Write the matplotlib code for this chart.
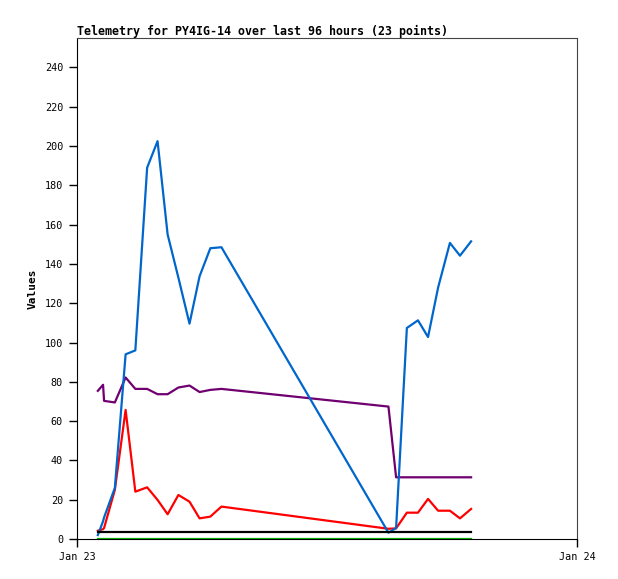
import numpy as np
import pandas as pd
import matplotlib as mpl
mpl.use('Agg')
import matplotlib.pyplot as plt
import matplotlib.dates as mdates

mpl.rcParams['font.family'] = 'DejaVu Sans Mono'

###############################################################################
# Data

times = ['01:00', '01:15', '01:18', '01:49', '02:20', '02:48', '03:22', '03:52',
         '04:21', '04:52', '05:24', '05:53', '06:24', '06:56', '14:57', '15:19',
         '15:50', '16:22', '16:51', '17:20', '17:54', '18:23', '18:55']

blue = [2, 9, 11, 26, 94, 96, 189, 202.5, 155, 133, 109.6, 133.7, 148, 148.5,
        3.2, 5.6, 107.4, 111.3, 102.8, 128, 150.7, 144.2, 151.5]
red = [4.2, 5, 5.6, 25, 65.7, 24.1, 26.3, 19.9, 12.6, 22.4, 19, 10.5, 11.4, 16.5,
       5.2, 5.4, 13.4, 13.4, 20.4, 14.4, 14.4, 10.5, 15.3]
purple = [75.4, 78.5, 70.3, 69.5, 82.2, 76.4, 76.4, 73.7, 73.7, 77.1, 78.1, 74.8,
          75.9, 76.4, 67.4, 31.4, 31.4, 31.4, 31.4, 31.4, 31.4, 31.4, 31.4]
black = [3.8] * 23
green = [0] * 23

y_ticks = list(range(0, 241, 20))
day_start = '2024-01-23'
day_end = '2024-01-24'

x = pd.to_datetime([day_start + ' ' + t for t in times])

###############################################################################
# Plot

fig = plt.figure(figsize=(6.18, 5.79), dpi=100)
ax = fig.add_axes([77/618, 40/579, 500/618, 501/579])

lw = 1.6
ax.plot(x, purple, color='#700070', lw=lw, zorder=2)
ax.plot(x, red, color='#ff0000', lw=lw, zorder=3)
ax.plot(x, blue, color='#0066cc', lw=lw, zorder=4)
ax.plot(x, black, color='#000000', lw=lw, zorder=5)
ax.plot(x, green, color='#00aa00', lw=lw, zorder=6)

ax.set_xlim(pd.Timestamp(day_start), pd.Timestamp(day_end))
ax.set_ylim(0, 255)
ax.set_yticks(y_ticks)
ax.set_xticks([pd.Timestamp(day_start), pd.Timestamp(day_end)])
ax.xaxis.set_major_formatter(mdates.DateFormatter('%b %d'))

ax.tick_params(axis='both', direction='out', length=6, width=1,
               labelsize=7.3, pad=4)
ax.tick_params(axis='x', pad=3)

for side in ['top', 'right']:
    ax.spines[side].set_color('#444444')
for side in ['left', 'bottom']:
    ax.spines[side].set_color('#000000')

ax.set_ylabel('Values', fontsize=8, fontweight='bold', labelpad=5)
ax.set_title('Telemetry for PY4IG-14 over last 96 hours (23 points)',
             loc='left', fontsize=8.4, fontweight='bold', pad=2)

fig.savefig('out.png', dpi=100)
